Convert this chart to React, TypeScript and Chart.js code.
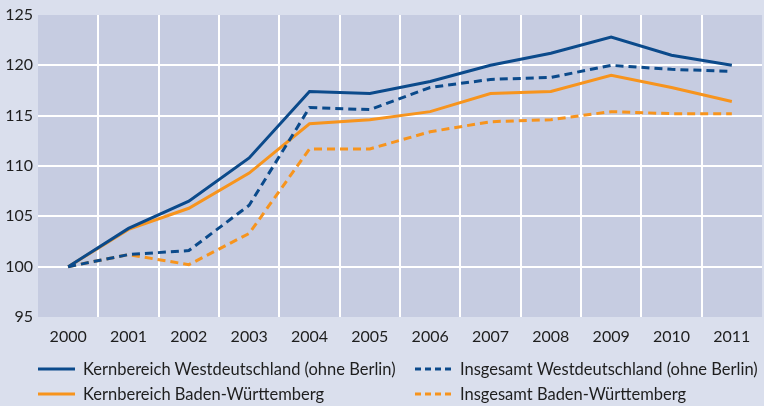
import React, { useEffect, useRef } from "react";
import { Chart, registerables } from "chart.js";

Chart.register(...registerables);

const years = ["2000", "2001", "2002", "2003", "2004", "2005", "2006", "2007", "2008", "2009", "2010", "2011"];
const kernWest = [100, 103.8, 106.5, 110.8, 117.4, 117.2, 118.4, 120.0, 121.2, 122.8, 121.0, 120.0];
const gesamtWest = [100, 101.2, 101.6, 106.1, 115.8, 115.6, 117.8, 118.6, 118.8, 120.0, 119.6, 119.4];
const kernBW = [100, 103.7, 105.8, 109.3, 114.2, 114.6, 115.4, 117.2, 117.4, 119.0, 117.8, 116.4];
const gesamtBW = [100, 101.2, 100.2, 103.3, 111.7, 111.7, 113.4, 114.4, 114.6, 115.4, 115.2, 115.2];
const seriesLabels = [
  "Kernbereich Westdeutschland (ohne Berlin)",
  "Insgesamt Westdeutschland (ohne Berlin)",
  "Kernbereich Baden-Württemberg",
  "Insgesamt Baden-Württemberg",
];

const BLUE = "#0b4a8b";
const ORANGE = "#f7941d";
const OUTER_BG = "#dadfed";
const PLOT_BG = "#c6cce1";
const FONT = "Lato, 'Noto Sans', sans-serif";

const plotBg = {
  id: "plotBg",
  beforeDraw(chart: any) {
    const { ctx, chartArea } = chart;
    ctx.save();
    ctx.fillStyle = PLOT_BG;
    ctx.fillRect(chartArea.left, chartArea.top, chartArea.right - chartArea.left, chartArea.bottom - chartArea.top);
    ctx.restore();
  },
};

function LegendItem({ label, color, dashed, left, top }: any) {
  return (
    <div style={{ position: "absolute", left, top, display: "flex", alignItems: "center", whiteSpace: "nowrap" }}>
      <svg width={37} height={4} style={{ marginRight: 8 }}>
        <line x1={0} y1={2} x2={37} y2={2} stroke={color} strokeWidth={3} strokeDasharray={dashed ? "6 4" : undefined} />
      </svg>
      <span style={{ fontFamily: FONT, fontSize: 16.5, color: "#1e1e1e" }}>{label}</span>
    </div>
  );
}

export default function App() {
  const ref = useRef<HTMLCanvasElement>(null);
  useEffect(() => {
    if (!ref.current) return;
    const chart = new Chart(ref.current, {
      type: "line",
      data: {
        labels: years,
        datasets: [
          { label: seriesLabels[0], data: kernWest, borderColor: BLUE, borderWidth: 3, pointRadius: 0, tension: 0 },
          { label: seriesLabels[1], data: gesamtWest, borderColor: BLUE, borderWidth: 3, borderDash: [8, 5], pointRadius: 0, tension: 0 },
          { label: seriesLabels[2], data: kernBW, borderColor: ORANGE, borderWidth: 3, pointRadius: 0, tension: 0 },
          { label: seriesLabels[3], data: gesamtBW, borderColor: ORANGE, borderWidth: 3, borderDash: [8, 5], pointRadius: 0, tension: 0 },
        ],
      },
      options: {
        animation: false,
        responsive: false,
        maintainAspectRatio: false,
        layout: { padding: { top: 15, right: 2, left: 0, bottom: 0 } },
        plugins: { legend: { display: false }, tooltip: { enabled: false } },
        scales: {
          x: {
            offset: true,
            border: { display: false },
            grid: {
              offset: true,
              drawTicks: false,
              lineWidth: 2,
              color: (c: any) => (c.type === "tick" && c.index > 0 ? "#ffffff" : "rgba(0,0,0,0)"),
            },
            ticks: { color: "#1e1e1e", font: { family: FONT, size: 16 }, padding: 10, maxRotation: 0 },
            afterFit: (s: any) => { s.height = 89; },
          },
          y: {
            min: 95,
            max: 125,
            border: { display: false },
            grid: {
              drawTicks: false,
              lineWidth: 2,
              color: (c: any) => (c.type === "tick" && c.index > 0 && c.index < 6 ? "#ffffff" : "rgba(0,0,0,0)"),
            },
            ticks: { stepSize: 5, color: "#1e1e1e", font: { family: FONT, size: 16 }, padding: 5 },
            afterFit: (s: any) => { s.width = 38; },
          },
        },
      },
      plugins: [plotBg],
    });
    return () => chart.destroy();
  }, []);

  return (
    <div style={{ position: "fixed", left: 0, top: 0, width: 764, height: 406, background: OUTER_BG, overflow: "hidden" }}>
      <canvas ref={ref} width={764} height={406} style={{ position: "absolute", left: 0, top: 0 }} />
      <LegendItem label={seriesLabels[0]} color={BLUE} dashed={false} left={38} top={359} />
      <LegendItem label={seriesLabels[1]} color={BLUE} dashed={true} left={415} top={359} />
      <LegendItem label={seriesLabels[2]} color={ORANGE} dashed={false} left={38} top={384} />
      <LegendItem label={seriesLabels[3]} color={ORANGE} dashed={true} left={415} top={384} />
    </div>
  );
}
